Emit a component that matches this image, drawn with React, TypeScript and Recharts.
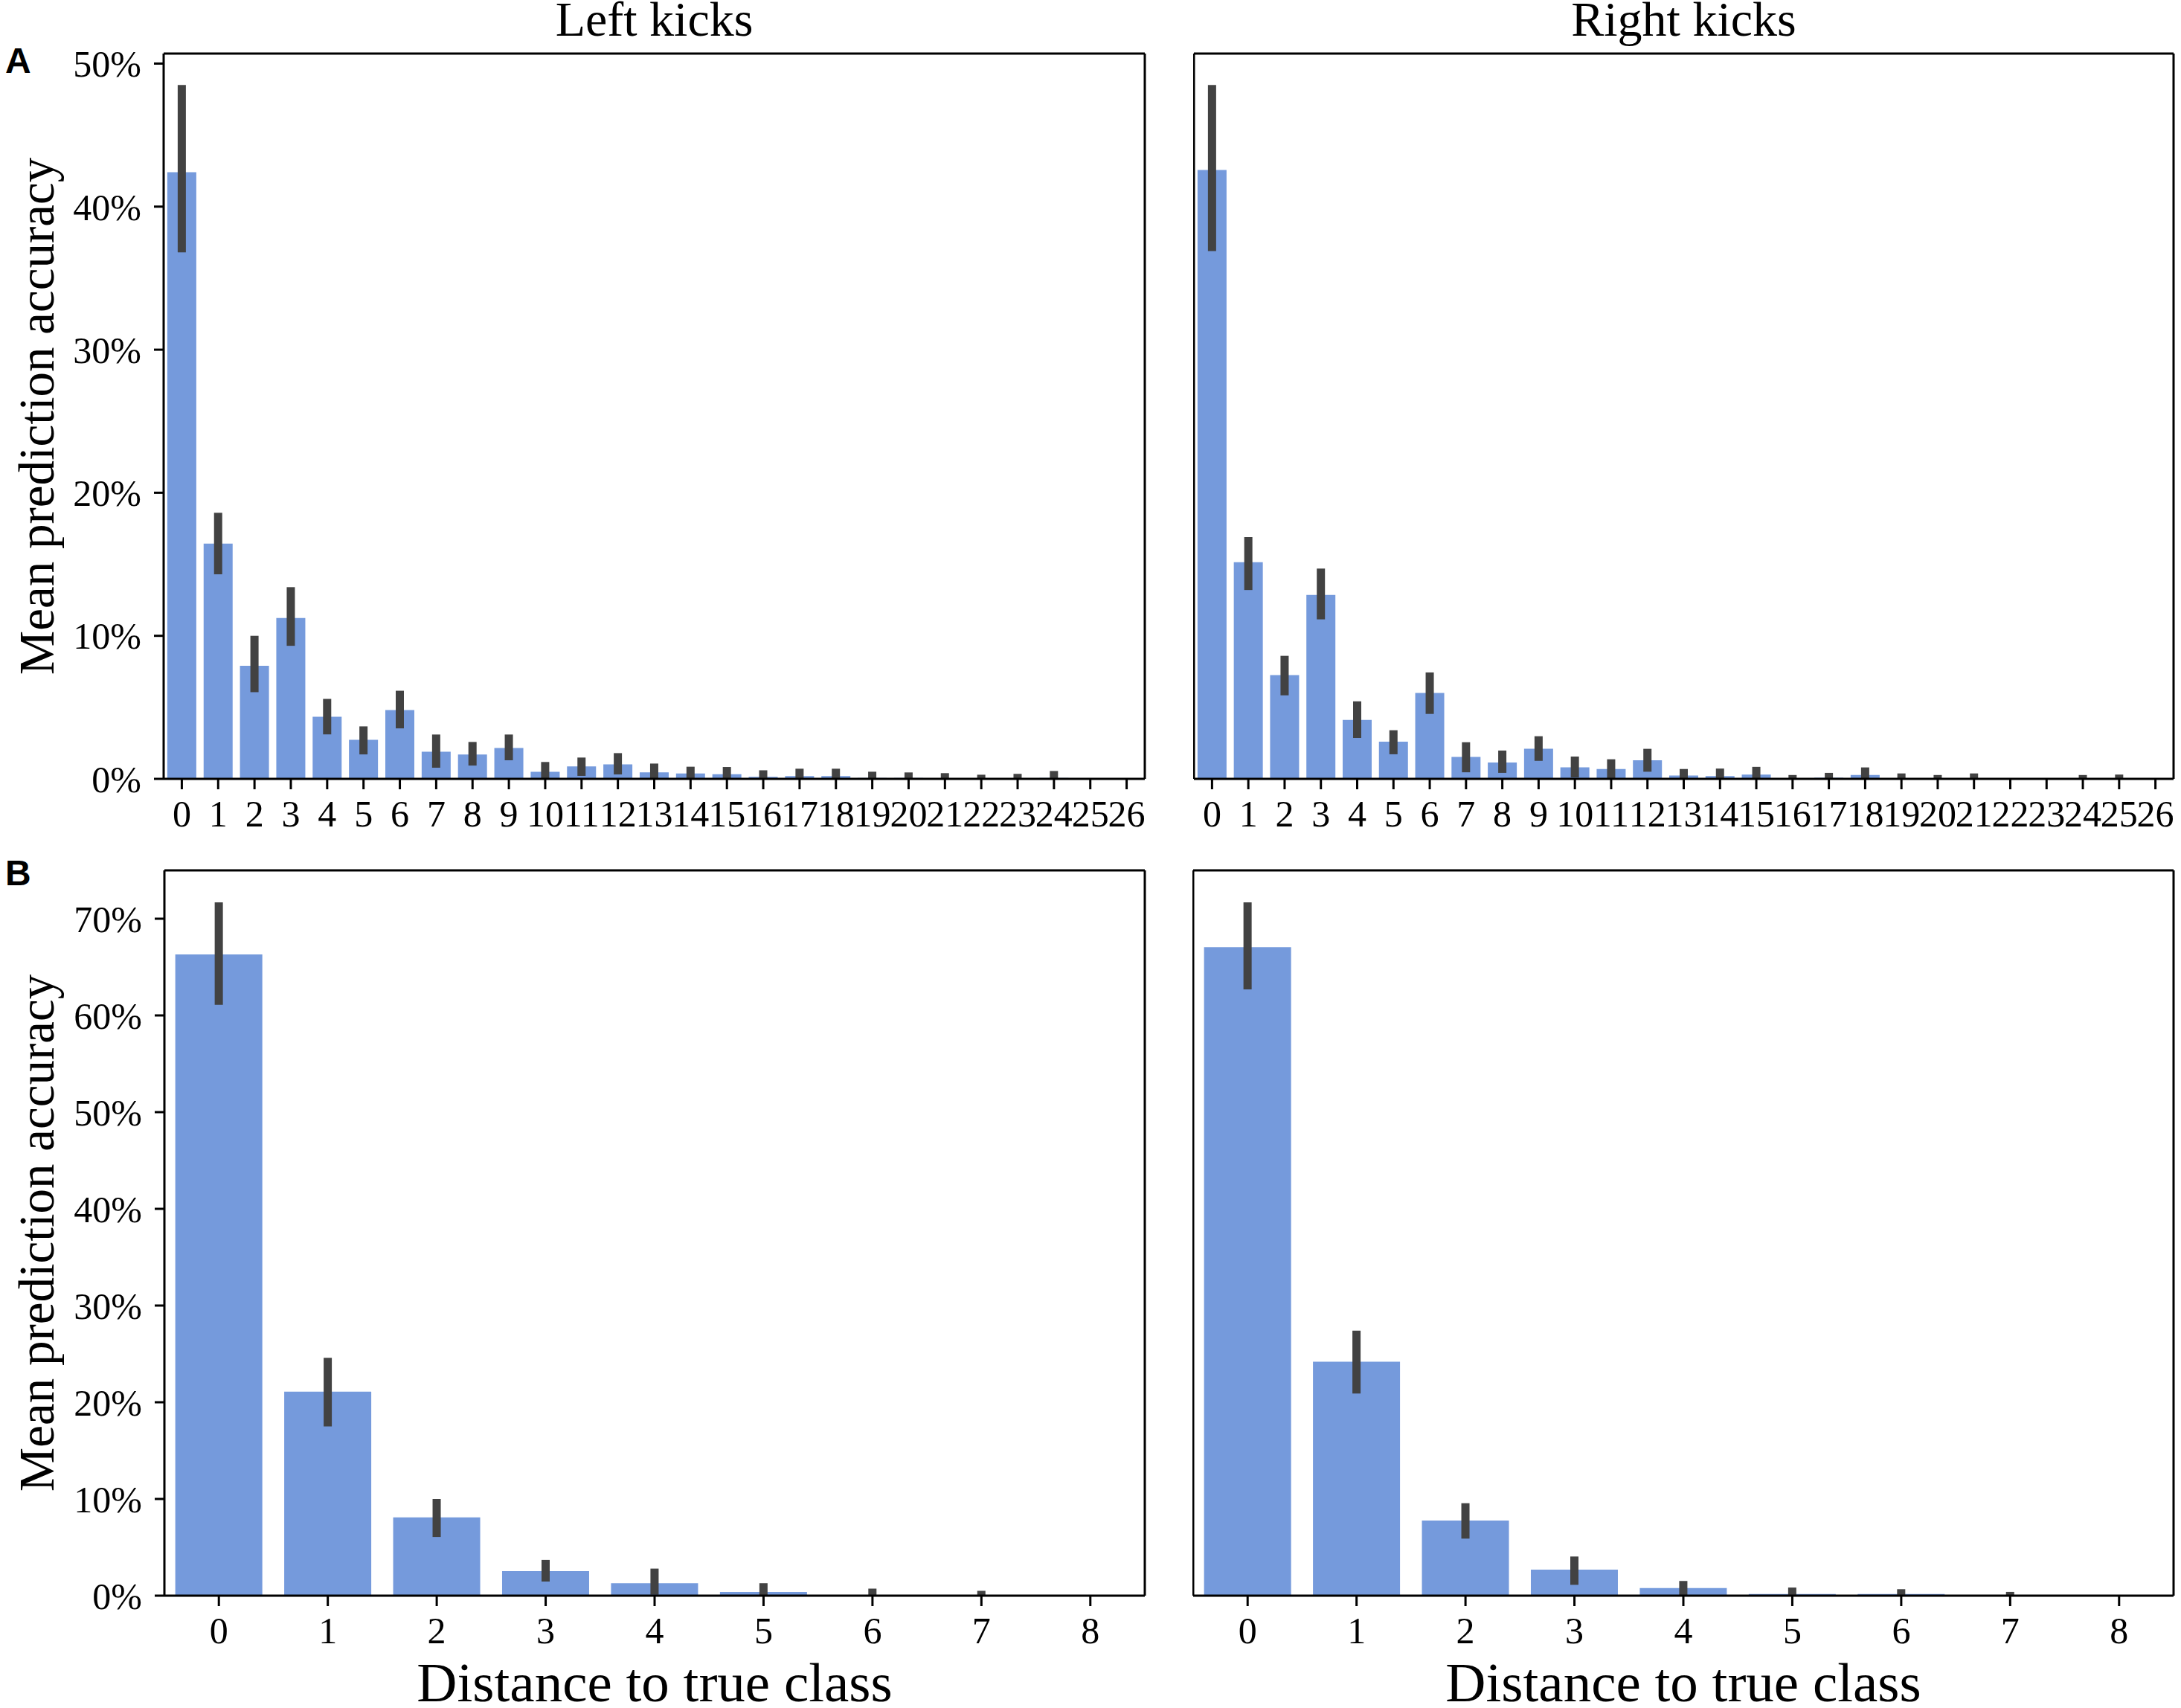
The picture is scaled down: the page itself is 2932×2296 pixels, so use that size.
import { BarChart, Bar, XAxis, YAxis, ErrorBar } from "recharts";

// distance-to-true-class categories
const classesA = ["0", "1", "2", "3", "4", "5", "6", "7", "8", "9", "10", "11", "12", "13", "14", "15", "16", "17", "18", "19", "20", "21", "22", "23", "24", "25", "26"];
const classesB = ["0", "1", "2", "3", "4", "5", "6", "7", "8"];

// A, left kicks (mean %, CI low, CI high)
const leftMeanA = [42.4, 16.45, 7.9, 11.25, 4.34, 2.73, 4.81, 1.9, 1.7, 2.16, 0.5, 0.87, 1.02, 0.45, 0.38, 0.32, 0.14, 0.19, 0.19, 0.07, 0.07, 0.02, 0.005, 0.005, 0.07, 0, 0];
const leftLowA = [36.8, 14.3, 6.06, 9.3, 3.11, 1.71, 3.53, 0.78, 0.93, 1.3, 0.05, 0.21, 0.31, 0, 0, 0, 0, 0, 0, 0, 0, 0, 0, 0, 0, 0, 0];
const leftHighA = [48.5, 18.6, 10.0, 13.4, 5.59, 3.67, 6.16, 3.1, 2.58, 3.1, 1.18, 1.49, 1.8, 1.07, 0.85, 0.83, 0.6, 0.71, 0.71, 0.5, 0.45, 0.4, 0.29, 0.35, 0.55, 0, 0];

// A, right kicks
const rightMeanA = [42.56, 15.15, 7.25, 12.86, 4.12, 2.6, 6.0, 1.53, 1.15, 2.1, 0.8, 0.69, 1.3, 0.23, 0.2, 0.3, 0.02, 0.08, 0.27, 0.03, 0.005, 0.005, 0, 0, 0.005, 0.005, 0];
const rightLowA = [36.9, 13.2, 5.84, 11.15, 2.86, 1.72, 4.54, 0.46, 0.42, 1.26, 0.1, 0, 0.5, 0, 0, 0, 0, 0, 0, 0, 0, 0, 0, 0, 0, 0, 0];
const rightHighA = [48.5, 16.9, 8.6, 14.7, 5.42, 3.4, 7.44, 2.56, 1.98, 2.98, 1.56, 1.37, 2.1, 0.69, 0.72, 0.84, 0.27, 0.42, 0.8, 0.38, 0.27, 0.38, 0, 0, 0.27, 0.3, 0];

// B, left kicks
const leftMeanB = [66.3, 21.1, 8.1, 2.53, 1.29, 0.39, 0.06, 0.005, 0];
const leftLowB = [61.1, 17.5, 6.07, 1.46, 0.1, 0, 0, 0, 0];
const leftHighB = [71.7, 24.6, 10.0, 3.7, 2.8, 1.29, 0.73, 0.5, 0];

// B, right kicks
const rightMeanB = [67.06, 24.2, 7.76, 2.7, 0.79, 0.17, 0.17, 0.005, 0];
const rightLowB = [62.7, 20.9, 5.9, 1.12, 0, 0, 0, 0, 0];
const rightHighB = [71.7, 27.4, 9.56, 4.05, 1.52, 0.84, 0.67, 0.39, 0];

const ticksA = [0, 10, 20, 30, 40, 50];
const ticksB = [0, 10, 20, 30, 40, 50, 60, 70];

const SERIF = '"Liberation Serif", "Times New Roman", serif';
const BAR = "#759ADC";
const ERR = "#424242";

function rows(cats: string[], mean: number[], low: number[], high: number[]) {
    return cats.map((c, i) => ({ cat: c, value: mean[i], err: [mean[i] - low[i], high[i] - mean[i]] }));
}

interface PanelProps {
    data: { cat: string; value: number; err: number[] }[];
    plotLeft: number;
    plotWidth: number;
    chartTop: number;
    marginTop: number;
    xAxisHeight: number;
    yAxisWidth: number;
    yMax: number;
    ticks: number[];
    showY: boolean;
    title?: string;
    xLabel?: string;
}

function Panel({ data, plotLeft, plotWidth, chartTop, marginTop, xAxisHeight, yAxisWidth, yMax, ticks, showY, title, xLabel }: PanelProps) {
    const plotHeight = 975;
    const line = { stroke: "#000", strokeWidth: 3 };
    // top axis and right axis are 1px boxes that only draw the frame
    return (
        <div style={{ position: "absolute", left: plotLeft - yAxisWidth, top: chartTop }}>
            <BarChart
                width={yAxisWidth + plotWidth + 1 + 4}
                height={marginTop + 1 + plotHeight + xAxisHeight}
                data={data}
                margin={{ top: marginTop, right: 4, left: 0, bottom: 0 }}
                barCategoryGap="10%"
            >
                <XAxis
                    dataKey="cat"
                    interval={0}
                    height={xAxisHeight}
                    axisLine={line}
                    tickLine={line}
                    tickSize={14}
                    tickMargin={14}
                    tick={{ fill: "#000", fontSize: 50, fontFamily: SERIF }}
                    label={xLabel ? { value: xLabel, position: "insideBottom", offset: 9, fill: "#000", fontSize: 75, fontFamily: SERIF } : undefined}
                />
                <XAxis
                    xAxisId="top"
                    dataKey="cat"
                    orientation="top"
                    height={1}
                    interval={0}
                    tick={false}
                    tickLine={false}
                    axisLine={line}
                    label={title ? { value: title, position: "top", offset: 23, fill: "#000", fontSize: 66, fontFamily: SERIF } : undefined}
                />
                <YAxis
                    width={yAxisWidth}
                    domain={[0, yMax]}
                    allowDataOverflow
                    ticks={ticks}
                    interval={0}
                    axisLine={line}
                    tickLine={showY ? line : false}
                    tickSize={13}
                    tickMargin={17}
                    tick={showY ? { fill: "#000", fontSize: 50, fontFamily: SERIF } : false}
                    tickFormatter={(v) => `${v}%`}
                    label={
                        showY
                            ? {
                                  value: "Mean prediction accuracy",
                                  angle: -90,
                                  position: "insideLeft",
                                  offset: 48,
                                  fill: "#000",
                                  fontSize: 67,
                                  fontFamily: SERIF,
                                  style: { textAnchor: "middle" },
                              }
                            : undefined
                    }
                />
                <YAxis yAxisId="right" orientation="right" width={1} domain={[0, yMax]} allowDataOverflow tick={false} tickLine={false} axisLine={line} />
                <Bar dataKey="value" fill={BAR} isAnimationActive={false}>
                    <ErrorBar dataKey="err" direction="y" width={0} strokeWidth={11} stroke={ERR} isAnimationActive={false} />
                </Bar>
            </BarChart>
        </div>
    );
}

export default function App() {
    return (
        <div style={{ position: "absolute", left: 0, top: 0, width: 2932, height: 2296, background: "#fff", overflow: "hidden" }}>
            <Panel
                data={rows(classesA, leftMeanA, leftLowA, leftHighA)}
                plotLeft={220}
                plotWidth={1319}
                chartTop={0}
                marginTop={71}
                xAxisHeight={110}
                yAxisWidth={220}
                yMax={50.7}
                ticks={ticksA}
                showY
                title="Left kicks"
            />
            <Panel
                data={rows(classesA, rightMeanA, rightLowA, rightHighA)}
                plotLeft={1605}
                plotWidth={1317}
                chartTop={0}
                marginTop={71}
                xAxisHeight={110}
                yAxisWidth={1}
                yMax={50.7}
                ticks={ticksA}
                showY={false}
                title="Right kicks"
            />
            <Panel
                data={rows(classesB, leftMeanB, leftLowB, leftHighB)}
                plotLeft={221}
                plotWidth={1318}
                chartTop={1150}
                marginTop={19}
                xAxisHeight={151}
                yAxisWidth={221}
                yMax={75}
                ticks={ticksB}
                showY
                xLabel="Distance to true class"
            />
            <Panel
                data={rows(classesB, rightMeanB, rightLowB, rightHighB)}
                plotLeft={1604}
                plotWidth={1318}
                chartTop={1150}
                marginTop={19}
                xAxisHeight={151}
                yAxisWidth={1}
                yMax={75}
                ticks={ticksB}
                showY={false}
                xLabel="Distance to true class"
            />
            <svg width={2932} height={2296} style={{ position: "absolute", left: 0, top: 0, pointerEvents: "none" }}>
                <text x={7} y={98} fontSize={48} fontWeight="bold" fontFamily='"Liberation Sans", Arial, sans-serif' fill="#000">
                    A
                </text>
                <text x={7} y={1190} fontSize={48} fontWeight="bold" fontFamily='"Liberation Sans", Arial, sans-serif' fill="#000">
                    B
                </text>
            </svg>
        </div>
    );
}
